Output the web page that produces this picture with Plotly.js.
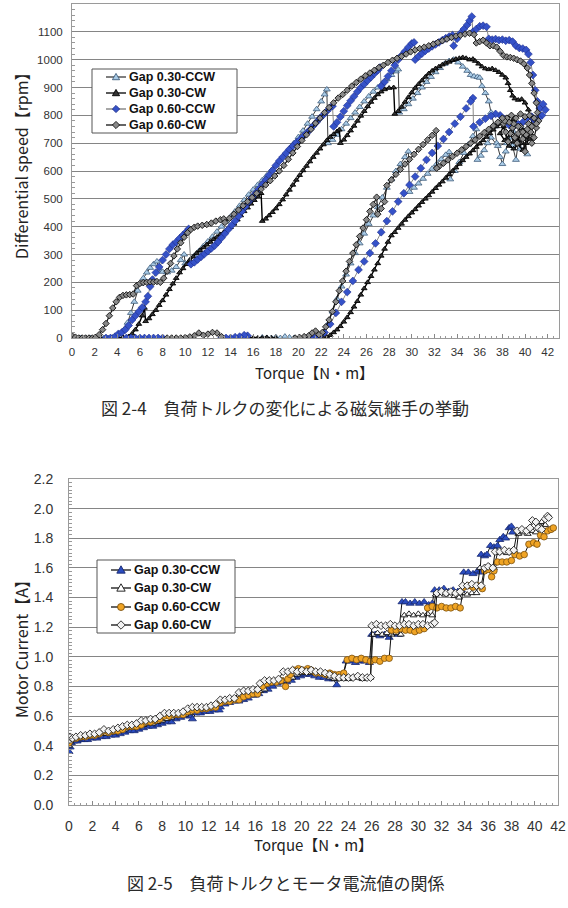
<!DOCTYPE html>
<html>
<head>
<meta charset="utf-8">
<script src="https://cdn.plot.ly/plotly-3.0.1.min.js"></script>
<style>
html,body{margin:0;padding:0;background:#fff;}
#fig{width:568px;height:908px;}
</style>
</head>
<body>
<div id="fig"></div>
<script>
// ---- Fig 2-4: differential speed [rpm] vs torque [N·m], [torque, speed]; null breaks the line
const speedGap030CCW = [
  [0.8,0],[1.2,0],[1.6,0],[2.0,0],[2.4,0],[2.8,0],[3.2,0],[3.6,2],[4.0,5],
  [4.3,12],[4.6,30],[4.9,55],[5.2,90],[5.5,130],[5.8,170],[6.0,195],[6.3,215],[6.6,235],[6.9,252],[7.2,265],[7.5,275],
  [7.7,245],[8.0,238],[8.4,236],[8.8,242],[9.2,255],[9.6,280],[9.9,300],[10.0,268],[10.4,278],[10.8,295],[11.2,312],
  [11.6,330],[12.0,347],[12.4,364],[12.8,382],[13.2,400],[13.6,418],[14.0,436],[14.4,455],[14.8,475],[15.2,495],
  [15.6,515],[16.0,533],[16.4,550],[16.8,567],[17.2,584],[17.6,602],[18.0,620],[18.4,640],[18.8,660],[19.2,680],
  [19.6,700],[20.0,722],[20.4,745],[20.8,770],[21.2,795],[21.6,822],[22.0,850],[22.3,875],[22.5,893],[22.6,700],
  [23.0,712],[23.4,730],[23.8,750],[24.2,770],[24.6,790],[25.0,810],[25.4,830],[25.8,850],[26.2,868],[26.6,885],
  [27.0,900],[27.4,915],[27.8,930],[28.2,945],[28.6,958],[28.8,965],[28.9,810],[29.3,822],[29.7,840],[30.1,860],
  [30.5,880],[30.9,900],[31.3,920],[31.7,938],[32.1,955],[32.5,970],[32.9,985],[33.3,995],[33.7,1000],[34.1,990],
  [34.5,975],[34.9,960],[35.2,945],[35.5,940],[35.8,938],[36.0,935],[36.2,905],[36.5,880],[36.8,850],[37.0,810],
  [37.3,760],[37.5,700],[37.8,650],[38.0,625],[38.3,670],[38.6,720],[38.9,690],[39.2,640],[39.4,700],[39.7,755],
  [40.0,720],[40.2,660],[39.6,680],[39.0,740],[38.4,700],[37.6,690],
  [37.0,720],[36.7,700],[36.4,675],[36.1,655],[35.8,640],[35.7,750],[35.4,725],[35.0,695],[34.6,665],[34.2,632],
  [33.8,600],[33.4,570],[33.3,668],[33.0,658],[32.6,642],[32.2,625],[31.8,608],[31.4,590],[31.0,572],[30.6,555],
  [30.2,540],[29.8,525],[29.7,670],[29.4,650],[29.0,625],[28.6,600],[28.2,570],[27.8,540],[27.4,505],[27.0,470],
  [26.6,440],[26.2,410],[25.8,375],[25.4,340],[25.0,305],[24.6,268],[24.2,228],[23.8,185],[23.4,140],[23.0,95],
  [22.6,50],[22.2,15],[21.8,0],[21.4,0],null,
  [19.6,0],[19.2,2],[18.8,5],[18.4,0],[18.0,3],[17.6,0],[17.2,0],[16.8,2]
];
const speedGap030CW = [
  [1.5,0],[2.0,0],[2.5,0],[3.0,0],[3.5,0],[4.0,0],[4.5,2],[5.0,5],
  [5.3,15],[5.6,30],[5.9,50],[6.2,80],[6.4,108],[6.5,60],[6.8,70],[7.1,85],[7.4,100],[7.7,118],[8.0,135],[8.3,155],
  [8.6,175],[8.9,195],[9.2,215],[9.5,235],[9.8,250],[10.1,265],[10.4,280],[10.7,292],[11.0,305],[11.3,315],
  [11.6,325],[11.9,335],[12.2,345],[12.5,355],[12.8,363],[13.1,372],[13.4,380],[13.7,390],[14.0,398],[14.3,410],
  [14.6,425],[14.9,440],[15.2,455],[15.5,468],[15.8,482],[16.1,495],[16.4,508],[16.7,520],[16.8,420],[17.1,428],
  [17.4,440],[17.7,452],[18.0,465],[18.3,480],[18.6,497],[18.9,515],[19.2,532],[19.5,550],[19.8,568],[20.1,585],
  [20.4,602],[20.7,618],[21.0,634],[21.3,650],[21.6,665],[21.9,680],[22.2,695],[22.5,710],[22.8,722],[23.1,732],
  [23.4,742],[23.6,748],[23.7,700],[24.0,712],[24.3,728],[24.6,745],[24.9,762],[25.2,780],[25.5,798],[25.8,815],
  [26.1,832],[26.4,848],[26.7,862],[27.0,875],[27.3,885],[27.6,893],[28.0,898],[28.4,900],[28.5,805],[28.8,815],
  [29.1,830],[29.4,848],[29.7,865],[30.0,882],[30.3,898],[30.6,912],[30.9,925],[31.2,938],[31.5,950],[31.8,960],
  [32.1,968],[32.4,975],[32.7,982],[33.0,988],[33.3,992],[33.6,998],[33.9,1002],[34.2,1005],[34.5,1008],[34.8,1005],
  [35.1,1000],[35.4,1002],[35.6,995],[35.9,985],[36.2,975],[36.5,968],[36.8,965],[37.1,968],[37.4,962],[37.7,955],
  [38.0,945],[38.3,935],[38.5,915],[38.7,890],[38.9,870],[39.1,860],[39.4,855],[39.7,858],[40.0,845],[40.3,820],
  [40.5,790],[40.7,760],[40.5,735],[40.2,720],[39.9,745],[39.6,700],[39.3,725],[39.0,705],[38.7,740],[38.4,715],
  [38.1,760],[37.8,735],[38.2,710],[38.6,690],[39.0,680],[39.4,695],[39.8,675],[40.1,700],[40.4,715],[40.0,740],
  [39.5,770],[39.0,785],[38.5,780],[38.0,770],
  [37.5,760],[37.2,748],[36.9,735],[36.6,722],[36.3,710],[36.0,698],[35.7,686],[35.4,674],[35.1,662],[34.8,650],
  [34.5,638],[34.2,625],[33.9,612],[33.6,600],[33.3,588],[33.0,575],[32.7,562],[32.4,550],[32.1,538],[31.8,525],
  [31.5,512],[31.2,500],[30.9,488],[30.6,475],[30.3,462],[30.0,450],[29.7,437],[29.4,424],[29.1,410],[28.8,395],
  [28.5,380],[28.2,368],[27.9,345],[27.6,320],[27.3,295],[27.0,268],[26.7,245],[26.4,222],[26.1,200],[25.8,178],
  [25.5,155],[25.2,132],[24.9,112],[24.6,92],[24.3,74],[24.0,58],[23.7,42],[23.4,30],[23.1,20],[22.8,10],
  [22.5,4],[22.2,0],null,
  [18.0,0],[17.6,0],[17.2,2],[16.8,0],[16.4,0],[16.0,0],[15.6,2]
];
const speedGap060CCW = [
  [3.0,0],[3.4,0],[3.8,5],
  [4.1,15],[4.4,20],[4.7,30],[5.0,45],[5.3,65],[5.6,80],[5.9,95],[6.2,110],[6.5,130],[6.7,150],[6.9,185],[7.1,210],
  [7.4,235],[7.7,255],[8.0,280],[8.3,300],[8.6,320],[8.9,335],[9.2,345],[9.5,358],[9.8,370],[10.1,382],[10.3,392],
  [10.5,265],[10.8,272],[11.1,282],[11.4,292],[11.7,302],[12.0,312],[12.3,322],[12.6,332],[12.9,345],[13.2,360],
  [13.5,375],[13.8,390],[14.1,405],[14.4,420],[14.7,437],[15.0,455],[15.3,472],[15.6,490],[15.9,505],[16.2,520],
  [16.5,535],[16.8,552],[17.1,568],[17.4,585],[17.7,602],[18.0,620],[18.3,636],[18.6,650],[18.9,664],[19.2,678],
  [19.5,690],[19.8,702],[20.1,712],[20.4,724],[20.7,736],[21.0,748],[21.3,762],[21.6,776],[21.9,790],[22.2,802],
  [22.5,815],[22.8,828],[23.0,833],[23.1,760],[23.4,775],[23.7,795],[24.0,815],[24.3,835],[24.6,852],[24.9,868],
  [25.2,885],[25.5,900],[25.8,912],[26.1,925],[26.4,937],[26.7,950],[27.0,962],[27.2,972],[27.3,905],[27.6,920],
  [27.9,940],[28.2,960],[28.5,980],[28.8,1000],[29.1,1015],[29.4,1030],[29.7,1045],[30.0,1058],[30.2,1062],
  [30.3,1000],[30.6,1012],[30.9,1022],[31.2,1032],[31.5,1040],[31.8,1048],[32.1,1055],[32.4,1062],[32.7,1070],
  [33.0,1077],[33.3,1083],[33.6,1088],[33.7,1050],[34.0,1075],[34.3,1095],[34.6,1110],[34.9,1125],[35.1,1140],
  [35.3,1155],[35.4,1100],[35.7,1110],[36.0,1120],[36.3,1122],[36.6,1118],[36.8,1075],[37.1,1072],[37.4,1074],
  [37.7,1070],[38.0,1072],[38.3,1068],[38.6,1070],[38.9,1065],[39.2,1050],[39.5,1042],[39.8,1040],[40.1,1035],
  [40.3,1020],[40.5,990],[40.7,945],[40.9,890],[41.1,850],[41.3,825],[41.6,840],[41.8,820],[41.5,800],[41.2,790],
  [40.9,780],[40.6,795],[40.2,790],[39.8,775],[39.4,768],[39.0,760],[38.6,765],[38.2,785],[37.8,800],[37.4,805],
  [37.0,798],[36.5,788],[36.0,775],[35.45,760],
  [35.4,862],[35.2,850],[34.8,825],[34.3,795],[33.8,770],[33.3,740],[32.8,715],[32.3,690],[31.8,665],[31.3,640],
  [30.8,610],[30.3,580],[29.8,550],[29.3,520],[28.8,490],[28.3,455],[27.8,420],[27.3,380],[26.8,340],[26.3,305],
  [25.8,275],[25.3,245],[24.8,205],[24.3,165],[23.8,130],[23.3,90],[22.8,50],[22.3,20],[21.8,5],[21.4,0],
  [21.0,2],[20.8,0],null,
  [15.5,8],[15.2,10],[14.8,5],[14.4,3],[14.0,0],[13.6,0],[13.2,0],null,
  [8.0,0],[7.6,0],[7.2,0],[6.8,0],[6.4,0],[6.0,0],[5.6,0],[5.2,0],[4.8,0]
];
const speedGap060CW = [
  [0.0,8],[0.3,3],[0.6,0],[0.9,0],[1.2,0],[1.5,0],[1.8,0],[2.1,2],
  [2.4,12],[2.7,30],[3.0,52],[3.3,80],[3.6,108],[3.9,130],[4.2,146],[4.5,153],[4.8,155],[5.1,156],[5.4,158],
  [5.7,188],[6.0,196],[6.3,199],[6.6,200],[6.9,202],[7.2,201],[7.5,203],[7.8,200],[8.1,215],[8.4,240],[8.7,268],
  [9.0,295],[9.3,320],[9.6,342],[9.9,362],[10.2,378],[10.5,390],[10.8,398],[11.1,402],[11.5,405],[11.9,408],
  [12.3,413],[12.7,420],[13.1,425],[13.4,428],[13.5,415],[13.9,430],[14.3,445],[14.7,460],[15.1,475],[15.5,490],
  [15.9,505],[16.3,520],[16.7,535],[17.1,550],[17.5,565],[17.9,582],[18.3,600],[18.7,620],[19.1,642],[19.5,665],
  [19.9,688],[20.3,710],[20.7,730],[21.1,750],[21.5,772],[21.9,790],[22.3,810],[22.7,828],[23.1,845],[23.5,862],
  [23.9,875],[24.3,890],[24.7,905],[25.1,918],[25.5,930],[25.9,942],[26.3,952],[26.7,962],[27.1,972],[27.5,980],
  [27.9,990],[28.3,998],[28.7,1005],[29.1,1012],[29.5,1020],[29.9,1028],[30.3,1035],[30.7,1040],[31.1,1045],
  [31.5,1050],[31.9,1056],[32.3,1062],[32.7,1068],[33.1,1074],[33.5,1080],[33.9,1085],[34.3,1088],[34.7,1092],
  [35.1,1095],[35.5,1090],[35.7,1060],[36.0,1065],[36.3,1070],[36.6,1060],[36.9,1050],[37.2,1050],[37.5,1045],
  [37.8,1030],[38.1,1015],[38.4,1010],[38.7,1008],[39.0,1005],[39.3,1000],[39.6,995],[39.9,985],[40.2,970],
  [40.4,945],[40.6,915],[40.8,880],[41.0,845],[41.1,810],[41.2,780],[41.0,755],[40.8,720],[40.6,700],[40.5,740],
  [40.3,770],[40.1,730],[40.0,670],[39.8,715],[39.6,760],[39.4,735],[39.3,700],[39.1,720],[38.9,755],[38.7,735],
  [38.5,705],[38.3,740],[38.1,770],[38.4,790],[38.8,800],[39.2,790],[39.6,805],[40.0,795],[40.4,800],[40.8,790],
  [41.0,770],[40.6,760],[40.2,750],[39.8,740],[39.4,760],[39.0,770],[38.6,775],[38.2,780],
  [38.0,790],[37.6,775],[37.2,762],[36.8,750],[36.4,738],[36.0,725],[35.6,712],[35.2,700],[34.8,688],[34.4,676],
  [34.0,664],[33.6,652],[33.2,640],[32.8,628],[32.4,616],[32.2,610],[32.15,745],[31.8,728],[31.4,712],[31.0,695],
  [30.6,678],[30.2,660],[29.8,642],[29.4,625],[29.0,606],[28.6,588],[28.2,568],[27.8,548],[27.6,490],[27.3,465],
  [27.0,445],[26.9,506],[26.6,480],[26.3,455],[26.0,425],[25.7,395],[25.4,365],[25.1,335],[24.8,305],[24.5,275],
  [24.2,240],[23.9,205],[23.6,170],[23.3,130],[23.0,95],[22.7,65],[22.4,40],[22.1,20],[21.8,12],[21.5,25],
  [21.2,18],[20.9,8],[20.5,5],[20.1,2],[19.7,0],null,
  [13.2,5],[12.8,18],[12.4,20],[12.0,14],[11.6,10],[11.2,18],[10.8,8],[10.4,4],[10.0,2],[9.6,0],[9.2,0],
  [8.8,0],[8.4,0]
];

// ---- Fig 2-5: motor current [A] vs torque [N·m], [torque, current]
const currentGap030CCW = [
  [0,0.36],[0.1,0.39],[0.2,0.42],[0.4,0.43],[0.7,0.43],[1.0,0.44],[1.3,0.44],[1.6,0.44],[2.0,0.45],[2.4,0.45],
  [2.8,0.46],[3.2,0.46],[3.6,0.47],[4.0,0.47],[4.4,0.48],[4.8,0.49],[5.2,0.50],[5.6,0.50],[6.0,0.51],[6.4,0.52],
  [6.8,0.53],[7.2,0.53],[7.6,0.54],[8.0,0.55],[8.4,0.56],[8.8,0.56],[9.2,0.58],[9.6,0.59],[10.0,0.60],[10.4,0.60],
  [10.6,0.58],[10.9,0.62],[11.3,0.62],[11.7,0.63],[12.1,0.63],[12.5,0.64],[12.9,0.64],[13.0,0.66],[13.4,0.68],
  [13.8,0.69],[14.2,0.70],[14.6,0.70],[15.0,0.71],[15.4,0.72],[15.8,0.74],[16.0,0.74],[16.3,0.75],[16.7,0.77],
  [17.1,0.78],[17.5,0.80],[17.9,0.82],[18.3,0.83],[18.7,0.83],[19.1,0.84],[19.5,0.86],[19.9,0.87],[20.3,0.88],
  [20.7,0.88],[21.1,0.87],[21.5,0.86],[21.9,0.86],[22.3,0.85],[22.7,0.85],[23.0,0.81],[23.2,0.86],[23.5,0.86],
  [23.8,0.97],[24.2,0.97],[24.6,0.96],[25.0,0.97],[25.4,0.97],[25.8,0.96],[26.0,1.15],[26.3,1.15],[26.7,1.14],
  [27.1,1.15],[27.5,1.13],[27.9,1.16],[28.3,1.15],[28.6,1.37],[28.9,1.37],[29.3,1.36],[29.7,1.37],[30.1,1.36],
  [30.5,1.37],[30.9,1.35],[31.2,1.36],[31.4,1.45],[31.8,1.45],[32.2,1.46],[32.6,1.44],[33.0,1.45],[33.4,1.44],
  [33.7,1.45],[33.9,1.57],[34.3,1.57],[34.7,1.56],[35.1,1.58],[35.3,1.57],[35.4,1.69],[35.7,1.68],[35.9,1.69],
  [36.2,1.75],[36.5,1.74],[36.8,1.75],[37.0,1.79],[37.3,1.81],[37.5,1.80],[37.8,1.87],[38.0,1.88],[38.1,1.84]
];
const currentGap030CW = [
  [0,0.40],[0.1,0.43],[0.3,0.45],[0.6,0.45],[0.9,0.45],[1.2,0.46],[1.6,0.46],[2.0,0.47],[2.4,0.47],[2.8,0.48],
  [3.2,0.48],[3.6,0.49],[4.0,0.49],[4.4,0.50],[4.8,0.51],[5.2,0.52],[5.6,0.52],[6.0,0.53],[6.4,0.54],[6.8,0.55],
  [7.2,0.55],[7.6,0.56],[8.0,0.57],[8.4,0.58],[8.8,0.59],[9.2,0.60],[9.6,0.61],[10.0,0.61],[10.4,0.62],[10.8,0.64],
  [11.2,0.64],[11.6,0.65],[12.0,0.65],[12.4,0.66],[12.8,0.68],[13.2,0.70],[13.6,0.70],[14.0,0.71],[14.4,0.71],
  [14.8,0.74],[15.2,0.75],[15.6,0.75],[16.0,0.76],[16.4,0.77],[16.8,0.78],[17.2,0.82],[17.6,0.83],[18.0,0.84],
  [18.4,0.84],[18.8,0.85],[19.2,0.86],[19.6,0.88],[20.0,0.89],[20.4,0.89],[20.8,0.89],[21.2,0.90],[21.6,0.89],
  [22.0,0.88],[22.4,0.86],[22.8,0.85],[23.2,0.85],[23.6,0.86],[24.0,0.85],[24.4,0.86],[24.8,0.86],[25.2,0.85],
  [25.6,0.86],[25.9,0.86],[26.1,1.15],[26.5,1.16],[26.9,1.15],[27.3,1.16],[27.7,1.15],[28.1,1.16],[28.5,1.15],
  [28.8,1.28],[29.2,1.29],[29.6,1.28],[30.0,1.29],[30.4,1.28],[30.8,1.29],[31.2,1.28],[31.5,1.42],[31.9,1.43],
  [32.3,1.42],[32.7,1.43],[33.1,1.41],[33.5,1.40],[33.8,1.43],[34.2,1.42],[34.6,1.43],[35.0,1.43],[35.3,1.60],
  [35.7,1.60],[36.1,1.61],[36.5,1.60],[36.8,1.70],[37.2,1.71],[37.6,1.70],[38.0,1.71],[38.4,1.70],[38.6,1.83],
  [39.0,1.84],[39.4,1.83],[39.8,1.85],[40.1,1.84],[40.3,1.90],[40.6,1.91],[40.9,1.89]
];
const currentGap060CCW = [
  [0,0.42],[0.1,0.44],[0.3,0.45],[0.6,0.45],[1.0,0.46],[1.4,0.46],[1.8,0.47],[2.2,0.47],[2.6,0.48],[3.0,0.50],
  [3.4,0.49],[3.8,0.50],[4.2,0.50],[4.6,0.51],[5.0,0.53],[5.4,0.53],[5.8,0.53],[6.2,0.54],[6.6,0.56],[7.0,0.56],
  [7.4,0.57],[7.8,0.58],[8.2,0.60],[8.6,0.60],[9.0,0.61],[9.4,0.61],[9.8,0.61],[10.2,0.63],[10.6,0.64],[11.0,0.64],
  [11.4,0.65],[11.8,0.65],[12.2,0.66],[12.6,0.66],[13.0,0.69],[13.4,0.70],[13.8,0.70],[14.2,0.71],[14.6,0.71],
  [15.0,0.73],[15.4,0.74],[15.8,0.75],[16.2,0.75],[16.6,0.80],[17.0,0.82],[17.4,0.83],[17.8,0.83],[18.2,0.84],
  [18.6,0.80],[18.8,0.85],[19.0,0.88],[19.3,0.91],[19.7,0.92],[20.1,0.91],[20.5,0.92],[20.8,0.91],[21.2,0.89],
  [21.6,0.89],[22.0,0.88],[22.4,0.89],[22.8,0.88],[23.2,0.88],[23.6,0.89],[23.9,0.98],[24.3,0.99],[24.7,0.98],
  [25.1,0.99],[25.5,0.98],[25.9,0.97],[26.3,0.98],[26.7,0.97],[27.1,0.99],[27.5,0.99],[27.7,1.18],[28.1,1.18],
  [28.5,1.19],[28.9,1.18],[29.3,1.18],[29.7,1.17],[30.1,1.18],[30.5,1.19],[30.8,1.33],[31.2,1.34],[31.6,1.33],
  [32.0,1.34],[32.4,1.33],[32.8,1.33],[33.2,1.34],[33.6,1.33],[33.9,1.47],[34.3,1.48],[34.7,1.47],[35.1,1.48],
  [35.5,1.46],[35.7,1.58],[36.0,1.59],[36.3,1.54],[36.5,1.58],[36.8,1.64],[37.2,1.64],[37.6,1.64],[38.0,1.65],
  [38.3,1.69],[38.7,1.68],[39.1,1.69],[39.5,1.76],[39.9,1.77],[40.2,1.76],[40.5,1.82],[40.8,1.81],[41.1,1.85],
  [41.4,1.86],[41.6,1.87]
];
const currentGap060CW = [
  [0,0.44],[0.1,0.46],[0.3,0.45],[0.6,0.46],[1.0,0.47],[1.4,0.47],[1.8,0.48],[2.2,0.48],[2.6,0.49],[3.0,0.51],
  [3.4,0.50],[3.8,0.51],[4.2,0.52],[4.6,0.53],[5.0,0.54],[5.4,0.54],[5.8,0.55],[6.2,0.57],[6.6,0.57],[7.0,0.58],
  [7.4,0.58],[7.8,0.60],[8.2,0.62],[8.6,0.62],[9.0,0.62],[9.4,0.62],[9.8,0.63],[10.2,0.65],[10.6,0.66],[11.0,0.66],
  [11.4,0.66],[11.8,0.66],[12.2,0.67],[12.6,0.68],[13.0,0.71],[13.4,0.71],[13.8,0.72],[14.2,0.72],[14.6,0.76],
  [15.0,0.77],[15.4,0.77],[15.8,0.78],[16.2,0.78],[16.4,0.82],[16.8,0.84],[17.2,0.84],[17.6,0.84],[18.0,0.85],
  [18.4,0.90],[18.8,0.90],[19.2,0.91],[19.6,0.90],[20.0,0.91],[20.4,0.90],[20.8,0.91],[21.2,0.90],[21.6,0.90],
  [22.0,0.89],[22.4,0.88],[22.8,0.87],[23.2,0.86],[23.6,0.86],[24.0,0.86],[24.4,0.86],[24.8,0.87],[25.2,0.86],
  [25.6,0.86],[25.9,0.86],[26.0,1.21],[26.4,1.22],[26.8,1.21],[27.2,1.21],[27.6,1.22],[28.0,1.21],[28.4,1.21],
  [28.8,1.22],[29.2,1.22],[29.6,1.21],[30.0,1.22],[30.4,1.22],[30.8,1.21],[31.2,1.22],[31.4,1.23],[31.6,1.43],
  [32.0,1.44],[32.4,1.43],[32.8,1.44],[33.2,1.43],[33.6,1.44],[33.8,1.48],[34.2,1.48],[34.6,1.49],[35.0,1.48],
  [35.4,1.48],[35.7,1.60],[36.0,1.61],[36.4,1.60],[36.6,1.71],[37.0,1.71],[37.4,1.72],[37.8,1.71],[38.2,1.72],
  [38.5,1.85],[38.9,1.86],[39.3,1.85],[39.6,1.87],[39.8,1.92],[40.1,1.91],[40.3,1.87],[40.6,1.86],[40.9,1.93],
  [41.1,1.95],[41.2,1.94]
];

const seriesNames = ['Gap 0.30-CCW', 'Gap 0.30-CW', 'Gap 0.60-CCW', 'Gap 0.60-CW'];
const torqueTicks = [0,2,4,6,8,10,12,14,16,18,20,22,24,26,28,30,32,34,36,38,40,42];

const W = 568, H = 908;
const px = v => v / W;          // page x pixel -> paper
const py = v => 1 - v / H;      // page y pixel -> paper

const colX = p => p.map(d => d === null ? null : d[0]);
const colY = p => p.map(d => d === null ? null : d[1]);

const tickFont = {family: 'Liberation Sans, Arial, sans-serif', color: '#333'};
const legendFont = {family: 'Liberation Sans, Arial, sans-serif', size: 12.5, color: '#111', weight: 700};
const titleFont = {family: 'Noto Sans CJK JP, sans-serif', size: 15, color: '#222'};
const yTitleFont = {family: 'Noto Sans CJK JP, sans-serif', size: 16, color: '#222'};
const captionFont = {family: 'Noto Sans CJK JP, serif', size: 17, color: '#2a2a2a'};

// per-series styles: speed chart
const speedStyles = [
  {marker: {symbol: 'triangle-up', size: 6, color: '#a9cbe6', line: {color: '#3f5d7c', width: 0.8}}, line: {color: '#3a3a3a', width: 1}},
  {marker: {symbol: 'triangle-up', size: 5, color: '#333333', line: {color: '#000', width: 0.9}}, line: {color: '#000', width: 1.4}},
  {marker: {symbol: 'diamond', size: 6, color: '#3552c8', line: {color: '#1c2c8c', width: 0.6}}, line: {color: '#8a8a8a', width: 1}},
  {marker: {symbol: 'diamond', size: 5, color: '#8a8a8a', line: {color: '#111', width: 0.9}}, line: {color: '#111', width: 1.2}}
];
// per-series styles: current chart
const currentStyles = [
  {marker: {symbol: 'triangle-up', size: 7, color: '#2a4cc0', line: {color: '#16276e', width: 0.8}}, line: {color: '#111', width: 1}},
  {marker: {symbol: 'triangle-up', size: 6, color: '#ffffff', line: {color: '#111', width: 0.9}}, line: {color: '#111', width: 1}},
  {marker: {symbol: 'circle', size: 6.5, color: '#f0a424', line: {color: '#7a5010', width: 0.8}}, line: {color: '#111', width: 1}},
  {marker: {symbol: 'diamond', size: 6, color: '#f2f2f2', line: {color: '#222', width: 0.9}}, line: {color: '#111', width: 1}}
];

function makeTrace(pairs, name, xa, ya, style) {
  return {
    type: 'scatter', mode: 'lines+markers', name: name,
    x: colX(pairs), y: colY(pairs), xaxis: xa, yaxis: ya,
    connectgaps: false, line: style.line, marker: style.marker, hoverinfo: 'skip', showlegend: false
  };
}

const speedData = [speedGap030CCW, speedGap030CW, speedGap060CCW, speedGap060CW];
const currentData = [currentGap030CCW, currentGap030CW, currentGap060CCW, currentGap060CW];
const traces = [];
speedData.forEach((d, i) => traces.push(makeTrace(d, seriesNames[i], 'x', 'y', speedStyles[i])));
currentData.forEach((d, i) => traces.push(makeTrace(d, seriesNames[i], 'x2', 'y2', currentStyles[i])));

// legend boxes drawn as layout shapes + annotations (compact row pitch)
function symbolShape(m, cx, cy, s) {
  const base = {xref: 'paper', yref: 'paper', layer: 'above',
    fillcolor: m.color, line: {color: m.line.color, width: 0.9}};
  if (m.symbol === 'circle') {
    return Object.assign(base, {type: 'circle', x0: px(cx - s/2), x1: px(cx + s/2), y0: py(cy + s/2), y1: py(cy - s/2)});
  }
  let pts;
  if (m.symbol === 'diamond') {
    pts = [[cx, cy - s*0.6], [cx + s*0.6, cy], [cx, cy + s*0.6], [cx - s*0.6, cy]];
  } else {
    pts = [[cx, cy - s*0.6], [cx + s*0.6, cy + s*0.45], [cx - s*0.6, cy + s*0.45]];
  }
  const path = 'M' + pts.map(p => px(p[0]).toFixed(5) + ',' + py(p[1]).toFixed(5)).join('L') + 'Z';
  return Object.assign(base, {type: 'path', path: path});
}
function buildLegend(spec, styles) {
  const shapes = [{type: 'rect', xref: 'paper', yref: 'paper', layer: 'above',
    x0: px(spec.box[0]), x1: px(spec.box[2]), y0: py(spec.box[3]), y1: py(spec.box[1]),
    fillcolor: '#ffffff', line: {color: '#555', width: 1}}];
  const notes = [];
  spec.rows.forEach((ry, i) => {
    const st = styles[i];
    shapes.push({type: 'line', xref: 'paper', yref: 'paper', layer: 'above',
      x0: px(spec.lineX[0]), x1: px(spec.lineX[1]), y0: py(ry), y1: py(ry),
      line: {color: st.line.color === '#8a8a8a' ? '#777' : st.line.color, width: 1.3}});
    shapes.push(symbolShape(st.marker, spec.markX, ry, spec.size));
    notes.push({text: seriesNames[i], xref: 'paper', yref: 'paper', x: px(spec.textX), y: py(ry),
      xanchor: 'left', yanchor: 'middle', showarrow: false, font: legendFont});
  });
  return {shapes, notes};
}
const leg1 = buildLegend({box: [92, 69, 237, 133], rows: [77, 93, 109, 125], lineX: [106, 126], markX: 116, textX: 127, size: 6}, speedStyles);
const leg2 = buildLegend({box: [97, 560, 235, 633], rows: [570, 588, 607, 625], lineX: [111, 131], markX: 121, textX: 132, size: 7}, currentStyles);

function xAxis(domain, range, anchor) {
  return {
    domain: domain, range: range, anchor: anchor,
    tickmode: 'array', tickvals: torqueTicks, ticktext: torqueTicks.map(String),
    ticks: 'inside', ticklen: 4, tickcolor: '#888', tickwidth: 1,
    minor: {dtick: 0.5, tick0: 0, ticks: 'inside', ticklen: 2.5, tickcolor: '#999', showgrid: false},
    showline: true, mirror: true, linecolor: '#9a9a9a', linewidth: 1,
    showgrid: false, zeroline: false, fixedrange: true
  };
}
function yAxis(domain, range, dtick, minorDtick, anchor) {
  return {
    domain: domain, range: range, anchor: anchor, dtick: dtick, tick0: 0,
    ticks: '', showgrid: true, gridcolor: '#858585', gridwidth: 1,
    minor: {dtick: minorDtick, tick0: 0, ticks: 'inside', ticklen: 3, tickcolor: '#999', showgrid: false},
    showline: true, mirror: true, linecolor: '#9a9a9a', linewidth: 1,
    zeroline: false, fixedrange: true
  };
}

const xa1 = xAxis([px(72), px(559)], [0, 43], 'y');
xa1.tickfont = Object.assign({size: 11.5}, tickFont);
xa1.ticklabelstandoff = 3;
const ya1 = yAxis([py(338), py(4)], [0, 1200], 100, 20, 'x');
ya1.tickfont = Object.assign({size: 11.5}, tickFont);
ya1.ticklabelstandoff = 6;

const xa2 = xAxis([px(69), px(558)], [0, 42], 'y2');
xa2.tickfont = Object.assign({size: 14}, tickFont);
xa2.ticklabelstandoff = 8;
const ya2 = yAxis([py(805), py(479)], [0, 2.2], 0.2, 0.025, 'x2');
ya2.tickfont = Object.assign({size: 14}, tickFont);
ya2.tickformat = '.1f';
ya2.ticklabelstandoff = 12;

const layout = {
  width: W, height: H, autosize: false,
  margin: {l: 0, r: 0, t: 0, b: 0},
  paper_bgcolor: '#ffffff', plot_bgcolor: '#ffffff',
  showlegend: false,
  xaxis: xa1, yaxis: ya1, xaxis2: xa2, yaxis2: ya2,
  shapes: leg1.shapes.concat(leg2.shapes),
  annotations: [
    {text: 'Differential speed【rpm】', xref: 'paper', yref: 'paper', x: px(21), y: py(162),
     textangle: -90, showarrow: false, xanchor: 'center', yanchor: 'middle', font: yTitleFont},
    {text: 'Torque【N・m】', xref: 'paper', yref: 'paper', x: px(314), y: py(372),
     showarrow: false, xanchor: 'center', yanchor: 'middle', font: titleFont},
    {text: '図 2-4　負荷トルクの変化による磁気継手の挙動', xref: 'paper', yref: 'paper', x: px(285), y: py(408),
     showarrow: false, xanchor: 'center', yanchor: 'middle', font: captionFont},
    {text: 'Motor Current【A】', xref: 'paper', yref: 'paper', x: px(21), y: py(645),
     textangle: -90, showarrow: false, xanchor: 'center', yanchor: 'middle', font: yTitleFont},
    {text: 'Torque【N・m】', xref: 'paper', yref: 'paper', x: px(313), y: py(844),
     showarrow: false, xanchor: 'center', yanchor: 'middle', font: titleFont},
    {text: '図 2-5　負荷トルクとモータ電流値の関係', xref: 'paper', yref: 'paper', x: px(286), y: py(882),
     showarrow: false, xanchor: 'center', yanchor: 'middle', font: captionFont}
  ].concat(leg1.notes, leg2.notes)
};

Plotly.newPlot('fig', traces, layout, {staticPlot: true, displayModeBar: false});
</script>
</body>
</html>
